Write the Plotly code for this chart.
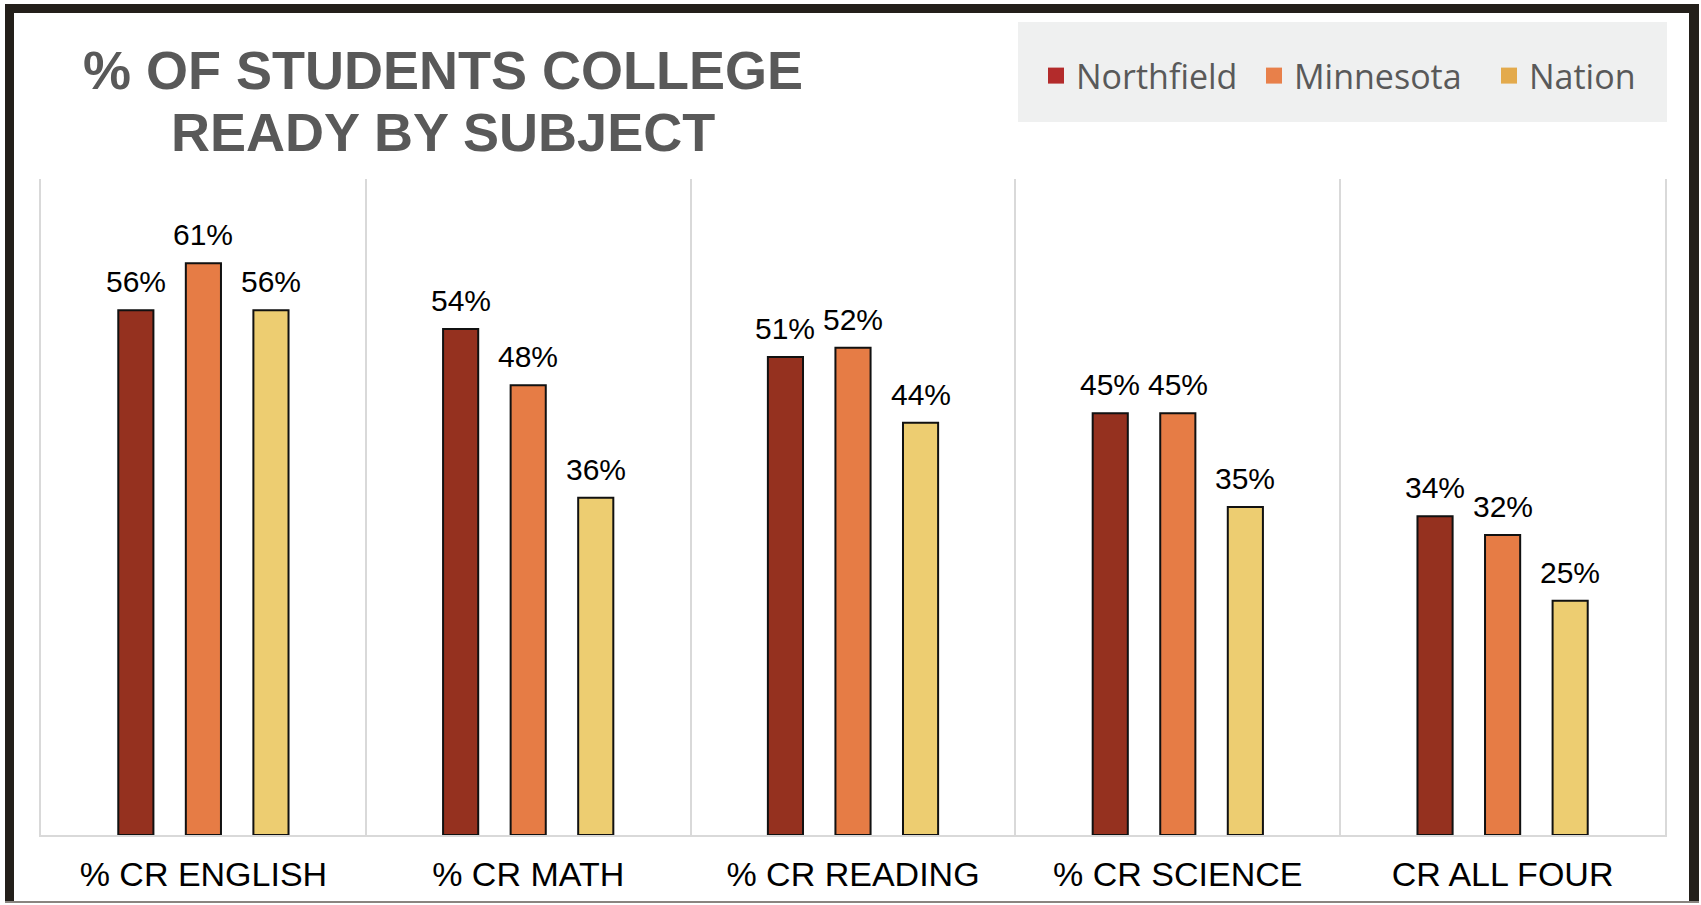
import plotly.graph_objects as go

categories = ["% CR ENGLISH", "% CR MATH", "% CR READING", "% CR SCIENCE", "CR ALL FOUR"]
northfield = [56, 54, 51, 45, 34]
minnesota = [61, 48, 52, 45, 32]
nation = [56, 36, 44, 35, 25]

series_names = ["Northfield", "Minnesota", "Nation"]
bar_colors = ["#95311F", "#E67C45", "#EDCD71"]
legend_colors = ["#B32B2B", "#E8804A", "#E3AA4C"]
legend_widths = [173, 190, 120]

W, H = 1701, 905
ML, MR, MT, MB = 41, 36, 179, 70
BARGAP = 0.376
GROUPGAP = 0.48


def fx(px):
    return (px - ML) / (W - ML - MR)


def fy(py):
    return (H - MB - py) / (H - MT - MB)


fig = go.Figure()

for name, vals, col in zip(series_names, [northfield, minnesota, nation], bar_colors):
    fig.add_trace(go.Bar(
        x=categories, y=vals, name=name,
        marker=dict(color=col, line=dict(color="#111111", width=2)),
        showlegend=False,
    ))

# legend entries: plain squares without outline
for name, col, lw in zip(series_names, legend_colors, legend_widths):
    fig.add_trace(go.Scatter(
        x=[None], y=[None], mode="markers", name=name, legendwidth=lw,
        marker=dict(symbol="square", size=16, color=col),
    ))

# value labels above bars
slot = (1 - BARGAP) / 3
annotations = []
for j, vals in enumerate([northfield, minnesota, nation]):
    for i, v in enumerate(vals):
        annotations.append(dict(
            x=i + (j - 1) * slot, y=v, xref="x", yref="y",
            text=f"{v}%", showarrow=False, yanchor="bottom", yshift=10,
            font=dict(family="Liberation Sans, Arial", size=30, color="#000000"),
        ))

# title, two lines
title_font = dict(family="Liberation Sans, Arial", size=54, color="#595959", weight="bold")
annotations.append(dict(x=fx(443), y=fy(70), xref="paper", yref="paper",
                        text="% OF STUDENTS COLLEGE", showarrow=False,
                        xanchor="center", yanchor="middle", font=title_font))
annotations.append(dict(x=fx(443), y=fy(132), xref="paper", yref="paper",
                        text="READY BY SUBJECT", showarrow=False,
                        xanchor="center", yanchor="middle", font=title_font))

shapes = [
    # legend background
    dict(type="rect", xref="paper", yref="paper", x0=fx(1018), x1=fx(1667),
         y0=fy(122), y1=fy(22), fillcolor="#EFF0F0", line=dict(width=0), layer="below"),
    # frame
    dict(type="rect", xref="paper", yref="paper", x0=fx(5), x1=fx(1699),
         y0=fy(13), y1=fy(4), fillcolor="#231F1A", line=dict(width=0)),
    dict(type="rect", xref="paper", yref="paper", x0=fx(5), x1=fx(14),
         y0=fy(903), y1=fy(4), fillcolor="#231F1A", line=dict(width=0)),
    dict(type="rect", xref="paper", yref="paper", x0=fx(1689), x1=fx(1699),
         y0=fy(903), y1=fy(4), fillcolor="#231F1A", line=dict(width=0)),
    dict(type="rect", xref="paper", yref="paper", x0=fx(5), x1=fx(1699),
         y0=fy(903), y1=fy(901), fillcolor="#8A8580", line=dict(width=0)),
]

fig.update_layout(
    width=W, height=H,
    margin=dict(l=ML, r=MR, t=MT, b=MB),
    paper_bgcolor="white", plot_bgcolor="white",
    barmode="group", bargap=BARGAP, bargroupgap=GROUPGAP,
    showlegend=True,
    legend=dict(orientation="h", x=fx(1036), xanchor="left", y=fy(76), yanchor="middle",
                bgcolor="rgba(0,0,0,0)",
                font=dict(family="Open Sans", size=34, color="#595959")),
    annotations=annotations,
    shapes=shapes,
    xaxis=dict(type="category", range=[-0.5, 4.5], tickson="boundaries",
               showgrid=True, gridcolor="#D9D9D9", gridwidth=2,
               showline=True, linecolor="#D9D9D9", linewidth=2, ticks="",
               ticklabelstandoff=8,
               tickfont=dict(family="Liberation Sans, Arial", size=34, color="#000000"),
               fixedrange=True),
    yaxis=dict(range=[0, 70], showgrid=False, zeroline=False, showticklabels=False,
               showline=True, mirror=True, linecolor="#D9D9D9", linewidth=2,
               fixedrange=True),
)

fig.write_html("out.html", config={"displayModeBar": False},
               post_script="document.body.style.margin='0';")
